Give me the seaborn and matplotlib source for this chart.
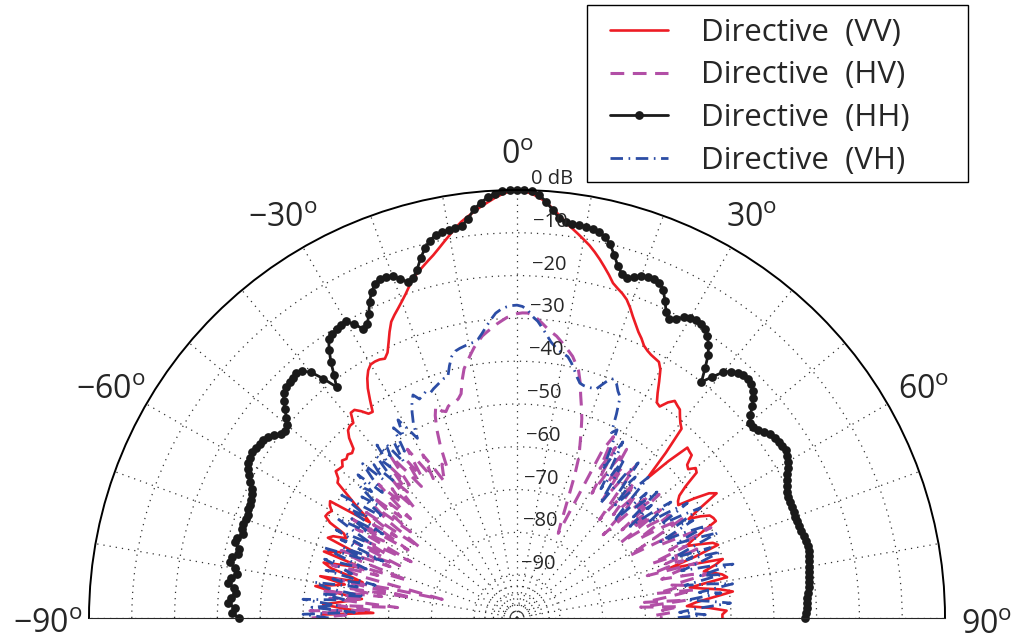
import numpy as np
import matplotlib
matplotlib.use("Agg")
import matplotlib.pyplot as plt
from matplotlib.patches import Rectangle
import seaborn as sns

# ---------------------------
# DATA (dB vs angle)
# ---------------------------
angles_deg = np.arange(-90, 91, 1)

vv_db = [
    -55, -54.4, -66.4, -60, -54.6, -58, -61, -63.5, -57, -52.3,
    -56, -59, -53, -63, -60, -55, -53, -58, -61.9, -52.3,
    -55, -57, -59.6, -52, -53, -56, -55, -51, -49.3, -49.5,
    -50, -49, -48.5, -59, -57, -54, -51, -47.5, -47, -45.5,
    -45.8, -46, -45, -45.5, -45, -45.5, -45, -42.5, -41, -40.5,
    -40.5, -38.3, -38.3, -39.5, -41, -41.2, -38.6, -36, -34, -32.5,
    -31.6, -31.5, -31.6, -32, -31, -29, -26.8, -24.8, -23.6, -22.5,
    -21.3, -20, -18.5, -17, -16, -15, -14, -13, -11.8, -10.5,
    -9.2, -7.8, -6.5, -5.5, -4.5, -3.5, -2.6, -1.7, -0.9, -0.3,
    0, -0.3, -0.8, -1.6, -2.6, -4, -5.4, -6.8, -8, -9.1,
    -10.2, -11.3, -12.6, -14, -15.5, -17, -18.6, -19.5, -20.3, -21.3,
    -22.8, -24.5, -26, -27.4, -28.5, -29.8, -30.5, -31, -31.3, -31.6,
    -33, -35.5, -38, -40, -40.4, -38.5, -37.3, -37.8, -38.2, -39.5,
    -40.6, -41.4, -48, -55.4, -49, -43.7, -44, -44.2, -46.5, -47,
    -45.5, -46, -50, -52.5, -53.5, -54, -50, -46.5, -45, -50,
    -53.7, -51, -49, -48.5, -48.3, -52, -55, -57, -54, -51,
    -50, -56, -63, -57, -50, -52, -55, -53, -51, -50,
    -59, -56, -52, -49.2, -54, -58, -60.2, -55, -51, -52,
    -52,
]

hv_db = [
    -52, -60, -51.6, -66, -58, -72, -56, -64, -54, -68,
    -60, -75, -57, -70, -82, -62, -55, -66, -58, -73,
    -61, -56, -68, -62, -70, -58, -66, -60, -72, -57,
    -64, -55, -70, -60, -66, -57, -72, -62, -58, -68,
    -56, -64, -60, -66, -55, -62, -58, -65, -56, -61,
    -54, -60, -52, -57, -62, -55, -60, -53, -58, -62,
    -56, -60, -64, -62, -60, -61.5, -56, -52, -49, -47,
    -48.5, -49, -48, -47.5, -47.5, -47, -46, -43, -40.5, -39,
    -37.5, -36, -34.8, -33.6, -32.8, -32, -31.2, -30.5, -29.8, -29.3,
    -28.9, -28.7, -28.7, -29.2, -30, -31, -32, -32.8, -33.5, -34.5,
    -35.5, -36.5, -37.5, -39, -40.5, -43, -46, -48.5, -51, -54,
    -57, -59.6, -64, -69, -73, -76, -78, -56, -52, -60,
    -54, -66, -58, -53, -62, -57, -66, -60, -55, -64,
    -70, -58, -62, -67, -60, -64, -72, -58, -63, -56,
    -68, -61, -66, -58, -70, -62, -57, -66, -60, -55,
    -64, -70, -58, -62, -54, -50, -61, -57, -66, -55,
    -63, -59, -68, -56, -62, -65, -58, -54, -63, -60,
    -67, -58, -64, -70, -60, -71, -62, -66, -64, -68,
    -66,
]

hh_db = [
    -35, -33.5, -34, -32.5, -33, -34, -33.5, -32, -32.6, -33.8,
    -33, -31.8, -32, -33.2, -33, -31.8, -32, -33, -32.5, -32.2,
    -32.5, -32.6, -32.3, -32.2, -32, -31.6, -31, -30, -29, -28.2,
    -27.5, -27.2, -27, -27.2, -27.5, -27.6, -28, -29, -30, -30.4,
    -30, -28.6, -27, -25.5, -24.2, -23.8, -23.5, -23.2, -23, -23.6,
    -25, -28, -31.5, -29, -26, -23.5, -21.3, -20.8, -20.5, -20.2,
    -20, -21.5, -23.5, -23, -21, -18.5, -16.5, -15.2, -14.5, -14.6,
    -15, -16.2, -17.5, -17, -15.3, -13, -11, -9.5, -8.5, -8.2,
    -8, -7.8, -7.5, -6, -4, -2.6, -1.5, -0.7, -0.2, 0,
    0, 0, -0.2, -1, -2.5, -4.3, -6, -6.8, -7, -7.1,
    -7.2, -7.4, -7.8, -8.6, -10, -12.2, -14.5, -16, -16.5, -15.8,
    -15, -14.6, -14.5, -14.9, -16, -18.2, -20.5, -21.6, -21, -19.6,
    -19, -18.9, -19, -19.4, -20.5, -22, -24, -27, -30, -27.5,
    -25, -23.7, -23, -22.5, -22.3, -22.6, -23.5, -24.6, -26, -27.8,
    -29, -29, -28.5, -27.8, -27, -26.5, -26.3, -26.1, -26, -26.3,
    -27, -27.7, -28.5, -29.2, -29.8, -30.3, -30.6, -30.8, -30.8, -30.8,
    -30.8, -30.7, -30.7, -30.5, -30.3, -30.1, -30, -30, -30.3, -30.6,
    -30.8, -31, -31, -31.3, -31.5, -31.8, -32, -32.1, -32.2, -32.4,
    -32.6,
]

vh_db = [
    -56, -50, -62, -52, -58, -49.8, -60, -54, -64, -55,
    -52, -62, -56, -66, -54, -60, -57, -53, -63, -58,
    -52, -62, -56, -66, -55, -60, -53, -62, -57, -52,
    -60, -55, -63, -53, -58, -50, -56, -61, -54, -58,
    -52, -55, -50, -57, -53, -49, -55, -51, -57, -50,
    -54, -48, -52, -49, -55, -50, -53, -47, -50, -46,
    -49, -52, -48.4, -46, -44, -42.5, -44, -43.5, -43, -43.6,
    -43, -42.5, -42, -41.5, -41.4, -39, -37, -36, -35.6, -35.3,
    -35, -34.8, -34.3, -33, -31.5, -30, -28.6, -27.8, -27.3, -27,
    -26.9, -27.2, -28, -29.5, -30.5, -32, -33.5, -35, -36, -36.8,
    -37.3, -37.8, -39, -40.5, -42, -43.2, -43.5, -43.6, -43.5, -43.5,
    -42, -40.5, -39.7, -40.5, -42, -43, -47, -51.4, -50.2, -55,
    -60, -52, -58, -64, -55, -61, -67, -58, -54, -62,
    -57, -65, -60, -55, -63, -68, -58, -62, -56, -64,
    -59, -66, -60, -55, -62, -57, -52, -60, -55, -50,
    -57, -53, -62, -56, -51, -59, -54, -49, -56, -61,
    -52, -58, -50, -55, -60, -53, -48, -56, -51, -60,
    -54, -49, -57, -52, -60, -55, -50, -58, -62, -56,
    -63,
]

series_labels = ["Directive  (VV)", "Directive  (HV)", "Directive  (HH)", "Directive  (VH)"]
ring_levels = [-10, -20, -30, -40, -50, -60, -70, -80, -90]
center_rings = [-92.5, -94.5, -96.5, -98.4]   # little rings around the origin
ring_labels = ["\u221210", "\u221220", "\u221230", "\u221240", "\u221250",
               "\u221260", "\u221270", "\u221280", "\u221290"]
angle_ticks = [-90, -60, -30, 0, 30, 60, 90]
angle_labels = ["\u221290", "\u221260", "\u221230", "0", "30", "60", "90"]

# ---------------------------
# FIGURE
# ---------------------------
sns.set_style("white")
plt.rcParams["font.family"] = ["Open Sans", "DejaVu Sans"]

W, H = 1018, 642
fig = plt.figure(figsize=(W / 100, H / 100), dpi=100)
# polar wedge is padded to a square box, so the half disc sits in the middle half
R = 428
cx, cy = 517, 24          # centre of the half disc, pixels from bottom-left
ax = fig.add_axes([(cx - R) / W, (cy - R / 2) / H, 2 * R / W, 2 * R / H],
                  projection="polar")
ax.set_theta_zero_location("N")
ax.set_theta_direction(-1)
ax.set_thetamin(-90)
ax.set_thetamax(90)
ax.set_rlim(-100, 0)

theta = np.deg2rad(angles_deg)

sns.lineplot(x=theta, y=vv_db, ax=ax, sort=False, estimator=None, legend=False,
             color="#ED1C24", linewidth=1.9, label=series_labels[0])
sns.lineplot(x=theta, y=hv_db, ax=ax, sort=False, estimator=None, legend=False,
             color="#B24FA6", linewidth=2.2, linestyle=(0, (4.5, 2.8)),
             label=series_labels[1])
sns.lineplot(x=theta, y=hh_db, ax=ax, sort=False, estimator=None, legend=False,
             color="#1a1a1a", linewidth=2.0, marker="o", markersize=6.3,
             markeredgewidth=0, clip_on=False, label=series_labels[2])
sns.lineplot(x=theta, y=vh_db, ax=ax, sort=False, estimator=None, legend=False,
             color="#2C4DA5", linewidth=2.0, linestyle=(0, (4.5, 2.0, 0.6, 2.0)),
             label=series_labels[3])

# grid like MATLAB polar(): dotted spokes every 10 deg, dotted dB rings
ax.set_thetagrids(np.arange(-90, 91, 10), labels=[""] * 19)
ax.set_rgrids(center_rings + ring_levels[::-1], labels=[""] * 13)
ax.grid(True, color="#333333", linestyle=(0, (1, 4)), linewidth=0.9)
for name in ["start", "end", "inner"]:
    ax.spines[name].set_visible(False)
ax.spines["polar"].set_linewidth(1.4)
ax.spines["polar"].set_color("black")
ax.set_xlabel("")
ax.set_ylabel("")
ax.tick_params(length=0)

# angle labels outside the arc
for a, lbl in zip(angle_ticks, angle_labels):
    ax.annotate(lbl + r"$^{\mathregular{o}}$", xy=(np.deg2rad(a), 9.6),
                xytext=(0, -7), textcoords="offset pixels", fontsize=23,
                ha="center", va="center", annotation_clip=False)

# dB labels beside the 0 deg spoke
for lvl, lbl in zip([0] + ring_levels, ["0 dB"] + ring_labels):
    rr = (lvl + 100) * R / 100
    ax.annotate(lbl, xy=(0, lvl), xytext=(20 + 0.035 * rr, 11),
                textcoords="offset pixels", fontsize=14.5, ha="center", va="center",
                annotation_clip=False)

# legend, with its own frame drawn as a plain rectangle
handles, labels = ax.get_legend_handles_labels()
fig.legend(handles, labels, loc="upper left",
           bbox_to_anchor=(610 / W, 1 - 18 / H), bbox_transform=fig.transFigure,
           fontsize=22.5, frameon=False, handlelength=1.85, handletextpad=1.05,
           labelspacing=0.4, borderpad=0, borderaxespad=0)
fig.patches.append(Rectangle((587 / W, 1 - 182 / H), 381 / W, 177 / H,
                             transform=fig.transFigure, fill=False,
                             edgecolor="black", linewidth=1.0))

fig.savefig("out.png", dpi=100)
